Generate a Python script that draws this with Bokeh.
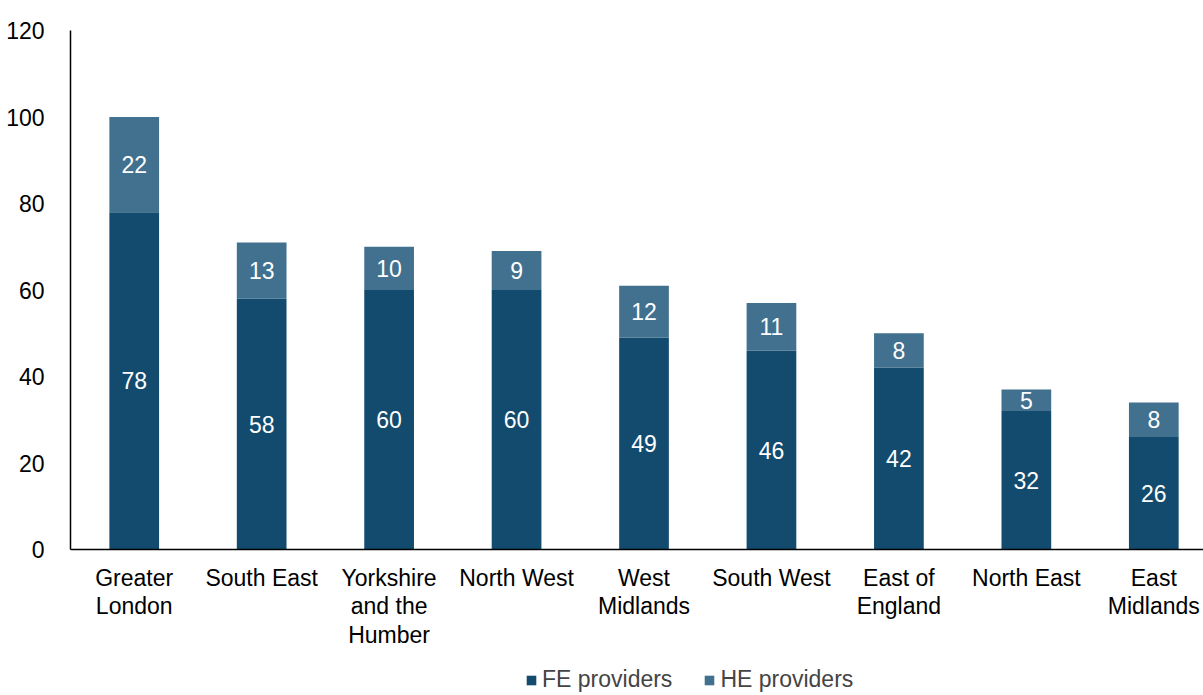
from bokeh.plotting import figure
from bokeh.layouts import column
from bokeh.models import ColumnDataSource, FixedTicker, Range1d, Legend, LabelSet
from bokeh.core.properties import value
from bokeh.embed import file_html
from bokeh.resources import INLINE

regions = ["Greater\nLondon", "South East", "Yorkshire\nand the\nHumber", "North West",
           "West\nMidlands", "South West", "East of\nEngland", "North East", "East\nMidlands"]
fe = [78, 58, 60, 60, 49, 46, 42, 32, 26]
he = [22, 13, 10, 9, 12, 11, 8, 5, 8]
y_ticks = [0, 20, 40, 60, 80, 100, 120]
series_names = ["FE providers", "HE providers"]

FE_COL = "#124B6E"
HE_COL = "#41718F"
FONT = "Liberation Sans"
FS = "23px"

xs = list(range(len(regions)))
src = ColumnDataSource(dict(
    x=xs, fe=fe, he=he,
    fe_mid=[f / 2 for f in fe],
    he_mid=[f + h / 2 for f, h in zip(fe, he)],
    fe_txt=[str(v) for v in fe],
    he_txt=[str(v) for v in he],
))

p = figure(frame_width=1133, frame_height=519, output_backend="svg", toolbar_location=None,
           x_range=Range1d(-0.5, 8.39), y_range=Range1d(0, 120),
           min_border_left=70, min_border_right=0, min_border_top=30, min_border_bottom=116)
p.outline_line_color = None
p.xgrid.visible = False
p.ygrid.visible = False

r = p.vbar_stack(["fe", "he"], x="x", width=0.39, source=src, color=[FE_COL, HE_COL],
                 line_color=None)

for col_y, col_t in (("fe_mid", "fe_txt"), ("he_mid", "he_txt")):
    p.add_layout(LabelSet(x="x", y=col_y, text=col_t, source=src, text_color="white",
                          text_align="center", text_baseline="middle",
                          text_font=value(FONT), text_font_size=FS))

p.yaxis.ticker = FixedTicker(ticks=y_ticks)
p.yaxis.major_tick_line_color = None
p.yaxis.minor_tick_line_color = None
p.yaxis.axis_line_color = "black"
p.yaxis.axis_line_width = 1.5
p.yaxis.major_label_text_font = FONT
p.yaxis.major_label_text_font_size = FS
p.yaxis.major_label_text_color = "#000000"
p.yaxis.major_label_standoff = 20

p.xaxis.ticker = FixedTicker(ticks=xs)
p.xaxis.major_label_overrides = {i: lab for i, lab in enumerate(regions)}
p.xaxis.major_tick_line_color = None
p.xaxis.minor_tick_line_color = None
p.xaxis.axis_line_color = "black"
p.xaxis.axis_line_width = 1.5
p.xaxis.major_label_text_font = FONT
p.xaxis.major_label_text_font_size = FS
p.xaxis.major_label_text_line_height = 1.1
p.xaxis.major_label_text_color = "#000000"
p.xaxis.major_label_standoff = 9

# Separate strip holding the legend, placed under the chart
lf = figure(width=1203, height=30, output_backend="svg", toolbar_location=None,
            x_range=Range1d(0, 1), y_range=Range1d(0, 1),
            x_axis_location=None, y_axis_location=None,
            min_border_left=0, min_border_right=0, min_border_top=0, min_border_bottom=0)
lf.outline_line_color = None
lf.grid.visible = False
dummy = ColumnDataSource(dict(x=[-10], top=[0]))
g_fe = lf.vbar(x="x", top="top", width=0.1, source=dummy, color=FE_COL, line_color=None)
g_he = lf.vbar(x="x", top="top", width=0.1, source=dummy, color=HE_COL, line_color=None)

legend = Legend(items=[(series_names[0], [g_fe]), (series_names[1], [g_he])],
                orientation="horizontal", location=(455, 2),
                label_text_font=FONT, label_text_font_size=FS,
                glyph_width=12, glyph_height=12, spacing=31, label_standoff=5,
                border_line_color=None, background_fill_alpha=0, margin=0, padding=0)
lf.add_layout(legend, "center")

layout = column(p, lf, spacing=0)
open("out.html", "w").write(file_html(layout, INLINE))
